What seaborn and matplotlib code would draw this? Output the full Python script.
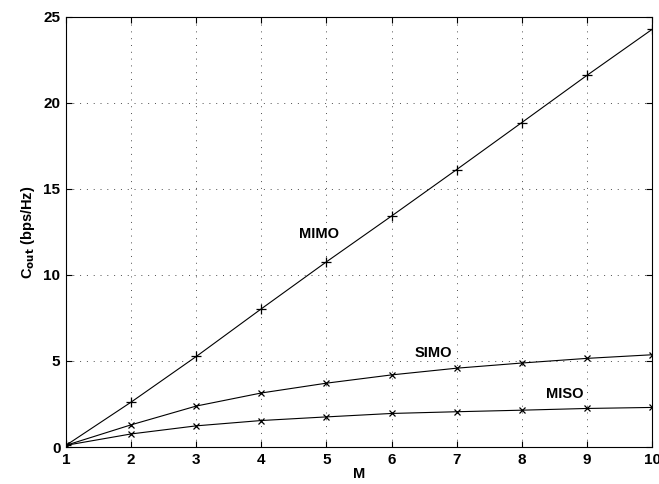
import numpy as np
import pandas as pd
import matplotlib
matplotlib.use("Agg")
import matplotlib.pyplot as plt
import seaborn as sns

# values
m_values = [1, 2, 3, 4, 5, 6, 7, 8, 9, 10]
mimo = [0.1, 2.61, 5.26, 8.03, 10.76, 13.42, 16.12, 18.85, 21.59, 24.26]
simo = [0.1, 1.29, 2.38, 3.14, 3.71, 4.19, 4.58, 4.88, 5.15, 5.36]
miso = [0.1, 0.76, 1.23, 1.54, 1.75, 1.95, 2.05, 2.14, 2.24, 2.30]

x_ticks = [1, 2, 3, 4, 5, 6, 7, 8, 9, 10]
y_ticks = [0, 5, 10, 15, 20, 25]

sns.set_style("ticks")
plt.rcParams['font.family'] = ['Liberation Sans', 'DejaVu Sans']
plt.rcParams['font.weight'] = 'bold'
plt.rcParams['text.color'] = 'black'
plt.rcParams['axes.labelcolor'] = 'black'
plt.rcParams['xtick.color'] = 'black'
plt.rcParams['ytick.color'] = 'black'

df = pd.DataFrame({"M": m_values, "MIMO": mimo, "SIMO": simo, "MISO": miso})

fig = plt.figure(figsize=(6.59, 4.84), dpi=100)
ax = fig.add_axes([0.1002, 0.0764, 0.8892, 0.8891])

sns.lineplot(data=df, x="M", y="MIMO", ax=ax, color="black", lw=0.8,
             marker="+", markersize=7, markeredgewidth=0.9, markeredgecolor="black")
sns.lineplot(data=df, x="M", y="SIMO", ax=ax, color="black", lw=0.8,
             marker="x", markersize=5, markeredgewidth=0.9, markeredgecolor="black")
sns.lineplot(data=df, x="M", y="MISO", ax=ax, color="black", lw=0.8,
             marker="x", markersize=5, markeredgewidth=0.9, markeredgecolor="black")

ax.set_xlim(1, 10)
ax.set_ylim(0, 25)
ax.set_xticks(x_ticks)
ax.set_yticks(y_ticks)
ax.tick_params(direction="in", top=True, right=True, length=4, width=0.8,
               labelsize=11, pad=4, colors="black")
for lab in ax.get_xticklabels() + ax.get_yticklabels():
    lab.set_fontweight("bold")
ax.grid(True, linestyle=(0, (1, 6)), color="black", lw=0.7, alpha=0.7)
for s in ax.spines.values():
    s.set_linewidth(0.8)
    s.set_color("black")

ax.set_xlabel("M", fontsize=10.5, fontweight="bold", labelpad=0)
ax.set_ylabel(r"C$_{\mathbf{out}}$ (bps/Hz)", fontsize=10.5, fontweight="bold", labelpad=5)

ax.text(4.58, 12.17, "MIMO", fontsize=10.5, fontweight="bold")
ax.text(6.36, 5.25, "SIMO", fontsize=10.5, fontweight="bold")
ax.text(8.37, 2.85, "MISO", fontsize=10.5, fontweight="bold")

fig.savefig("out.png", dpi=100)
